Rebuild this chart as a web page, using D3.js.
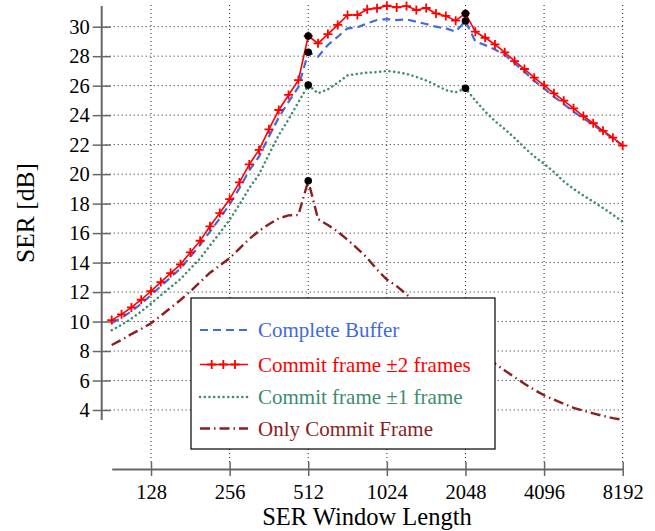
<!DOCTYPE html>
<html><head><meta charset="utf-8">
<script src="https://cdn.jsdelivr.net/npm/d3@7"></script>
<style>body{margin:0;background:#fff}svg{display:block}svg text{font-family:"Liberation Serif","Times New Roman",serif !important}</style>
</head><body>
<script>
// ---- data ----
const windowLengths = d3.range(53).map(k => Math.pow(2, 6.5 + k / 8));
const xTickValues = [128, 256, 512, 1024, 2048, 4096, 8192];
const yTickValues = [4, 6, 8, 10, 12, 14, 16, 18, 20, 22, 24, 26, 28, 30];
const seriesNames = ["Complete Buffer", "Commit frame \u00b12 frames", "Commit frame \u00b11 frame", "Only Commit Frame"];
const completeBuffer = [9.9,10.25,10.7,11.2,11.8,12.4,13.0,13.6,14.4,15.2,16.1,17.0,17.95,19.05,20.25,21.2,22.55,23.85,24.9,25.9,
  28.26,27.97,28.76,29.32,29.89,29.96,30.23,30.45,30.52,30.45,30.5,30.34,30.18,30.0,29.89,29.66,30.39,
  29.0,28.75,28.45,28.08,27.52,26.95,26.32,25.82,25.25,24.76,24.23,23.79,23.33,22.88,22.43,21.93];
const commit2 = [10.1,10.49,10.96,11.48,12.07,12.68,13.29,13.88,14.69,15.48,16.46,17.36,18.31,19.44,20.66,21.64,23.04,24.35,25.37,26.38,
  29.37,28.87,29.5,30.12,30.79,30.79,31.18,31.25,31.42,31.31,31.4,31.13,31.27,30.9,30.73,30.41,30.9,
  29.66,29.25,28.8,28.26,27.67,27.13,26.54,26.02,25.48,24.98,24.46,23.94,23.45,22.94,22.47,21.93];
const commit1 = [9.42,9.77,10.2,10.68,11.22,11.78,12.34,12.88,13.59,14.28,15.16,16.01,16.91,17.94,19.06,19.99,21.34,22.65,23.72,24.88,
  26.04,25.48,25.75,26.2,26.7,26.8,26.88,26.92,27.0,26.92,26.8,26.6,26.35,26.05,25.7,25.55,25.82,
  25.0,24.25,23.6,23.05,22.45,21.8,21.2,20.7,20.15,19.5,19.0,18.55,18.13,17.7,17.25,16.77];
const commitOnly = [8.41,8.75,9.15,9.5,9.88,10.4,10.93,11.46,12.05,12.68,13.31,13.8,14.3,14.95,15.6,16.15,16.6,17.0,17.2,17.22,
  19.55,16.95,16.55,16.1,15.55,14.95,14.32,13.52,12.85,12.4,11.85,11.28,10.72,10.17,9.65,9.17,8.66,
  8.15,7.66,7.15,6.68,6.22,5.78,5.37,5.0,4.7,4.42,4.15,3.95,3.77,3.6,3.45,3.33];
const highlightIdx = [20, 36];

// ---- chart ----
const W = 655, H = 531;
const FONT = "'Liberation Serif','Times New Roman',serif";
const svg = d3.select("body").append("svg").attr("width", W).attr("height", H);
const x = d3.scaleLog().base(2).domain([Math.pow(2, 6.5), 8192]).range([111.7, 622.7]);
const y = d3.scaleLinear().domain([4, 30]).range([410, 26.7]);
const plotTop = 5, plotBottom = 465, plotLeft = 101.7, plotRight = 622.7;

// grid
const grid = svg.append("g").attr("stroke", "#222").attr("stroke-width", 1).attr("stroke-dasharray", "1,3");
grid.selectAll("line.v").data(xTickValues).join("line")
  .attr("x1", d => x(d)).attr("x2", d => x(d)).attr("y1", plotTop).attr("y2", plotBottom);
grid.selectAll("line.h").data(yTickValues).join("line")
  .attr("x1", plotLeft).attr("x2", plotRight).attr("y1", d => y(d)).attr("y2", d => y(d));

// axes
const axisColor = "#666";
const yAx = svg.append("g").attr("transform", `translate(${plotLeft},0)`)
  .call(d3.axisLeft(y).tickValues(yTickValues).tickSizeInner(9).tickSizeOuter(0).tickPadding(3));
yAx.attr("font-family", FONT);
yAx.select(".domain").remove();
yAx.selectAll(".tick line").attr("x1", 9).attr("x2", -9).attr("stroke", axisColor).attr("stroke-width", 1.5);
yAx.append("line").attr("x1", 0).attr("x2", 0).attr("y1", y(31.4)).attr("y2", y(3.32))
  .attr("stroke", axisColor).attr("stroke-width", 2);
yAx.selectAll(".tick text").attr("font-size", 20.5).attr("fill", "#000")
  .style("font-family", FONT).attr("x", -12);

const xAx = svg.append("g").attr("transform", `translate(0,469)`)
  .call(d3.axisBottom(x).tickValues(xTickValues).tickFormat(d3.format("d")).tickSizeInner(7).tickSizeOuter(0).tickPadding(8));
xAx.attr("font-family", FONT);
xAx.select(".domain").attr("stroke", axisColor).attr("stroke-width", 2);
xAx.selectAll(".tick line").attr("y1", -7).attr("y2", 7).attr("stroke", axisColor).attr("stroke-width", 1.5);
xAx.selectAll(".tick text").attr("font-size", 20.5).attr("fill", "#000").style("font-family", FONT);

// axis labels
svg.append("text").attr("x", 367).attr("y", 525).attr("text-anchor", "middle")
  .attr("font-size", 24.5).style("font-family", FONT).text("SER Window Length");
svg.append("text").attr("transform", "translate(34,213) rotate(-90)").attr("text-anchor", "middle")
  .attr("font-size", 25.5).style("font-family", FONT).text("SER [dB]");

// series
const colors = ["#4169e1", "#ff0000", "#3d8c6c", "#8b1e1e"];
const line = d3.line().x((d, i) => x(windowLengths[i])).y(d => y(d));
const styles = [
  {data: completeBuffer, color: colors[0], width: 2.2, dash: "8,5"},
  {data: commit2, color: colors[1], width: 1.6, dash: null},
  {data: commit1, color: colors[2], width: 2.5, dash: "0.1,4.6", cap: "round"},
  {data: commitOnly, color: colors[3], width: 2.4, dash: "10,4,1.5,4"}
];
const drawOrder = [3, 2, 0, 1];
drawOrder.forEach(i => {
  const s = styles[i];
  svg.append("path").datum(s.data).attr("d", line).attr("fill", "none")
    .attr("stroke", s.color).attr("stroke-width", s.width)
    .attr("stroke-dasharray", s.dash).attr("stroke-linecap", s.cap || "butt");
});
// plus markers on red series
const plusSize = 4.5;
const plusPath = `M${-plusSize},0H${plusSize}M0,${-plusSize}V${plusSize}`;
svg.append("g").selectAll("path").data(commit2).join("path")
  .attr("transform", (d, i) => `translate(${x(windowLengths[i])},${y(d)})`)
  .attr("d", plusPath).attr("stroke", colors[1]).attr("stroke-width", 1.8).attr("fill", "none");

// black highlight dots
const dots = [];
highlightIdx.forEach(k => {
  [completeBuffer, commit2, commit1].forEach(arr => dots.push([windowLengths[k], arr[k]]));
});
dots.push([windowLengths[20], commitOnly[20]]);
svg.append("g").selectAll("circle").data(dots).join("circle")
  .attr("cx", d => x(d[0])).attr("cy", d => y(d[1])).attr("r", 3.8).attr("fill", "#000");

// legend
const lg = svg.append("g");
lg.append("rect").attr("x", 191).attr("y", 298).attr("width", 304).attr("height", 151)
  .attr("fill", "#fff").attr("stroke", "#000").attr("stroke-width", 1.2);
const rowsY = [330, 364.5, 397, 428.5];
styles.forEach((s, i) => {
  const yy = rowsY[i];
  lg.append("line").attr("x1", 200).attr("x2", 248).attr("y1", yy).attr("y2", yy)
    .attr("stroke", s.color).attr("stroke-width", s.width).attr("stroke-dasharray", s.dash)
    .attr("stroke-linecap", s.cap || "butt");
  if (i === 1) {
    [211.7, 223.3, 235].forEach(px => lg.append("path").attr("transform", `translate(${px},${yy})`)
      .attr("d", plusPath).attr("stroke", s.color).attr("stroke-width", 1.8));
  }
  lg.append("text").attr("x", 258).attr("y", yy).attr("dy", "0.35em")
    .attr("font-size", 21).style("font-family", FONT).attr("fill", s.color).text(seriesNames[i]);
});
</script>
</body></html>
